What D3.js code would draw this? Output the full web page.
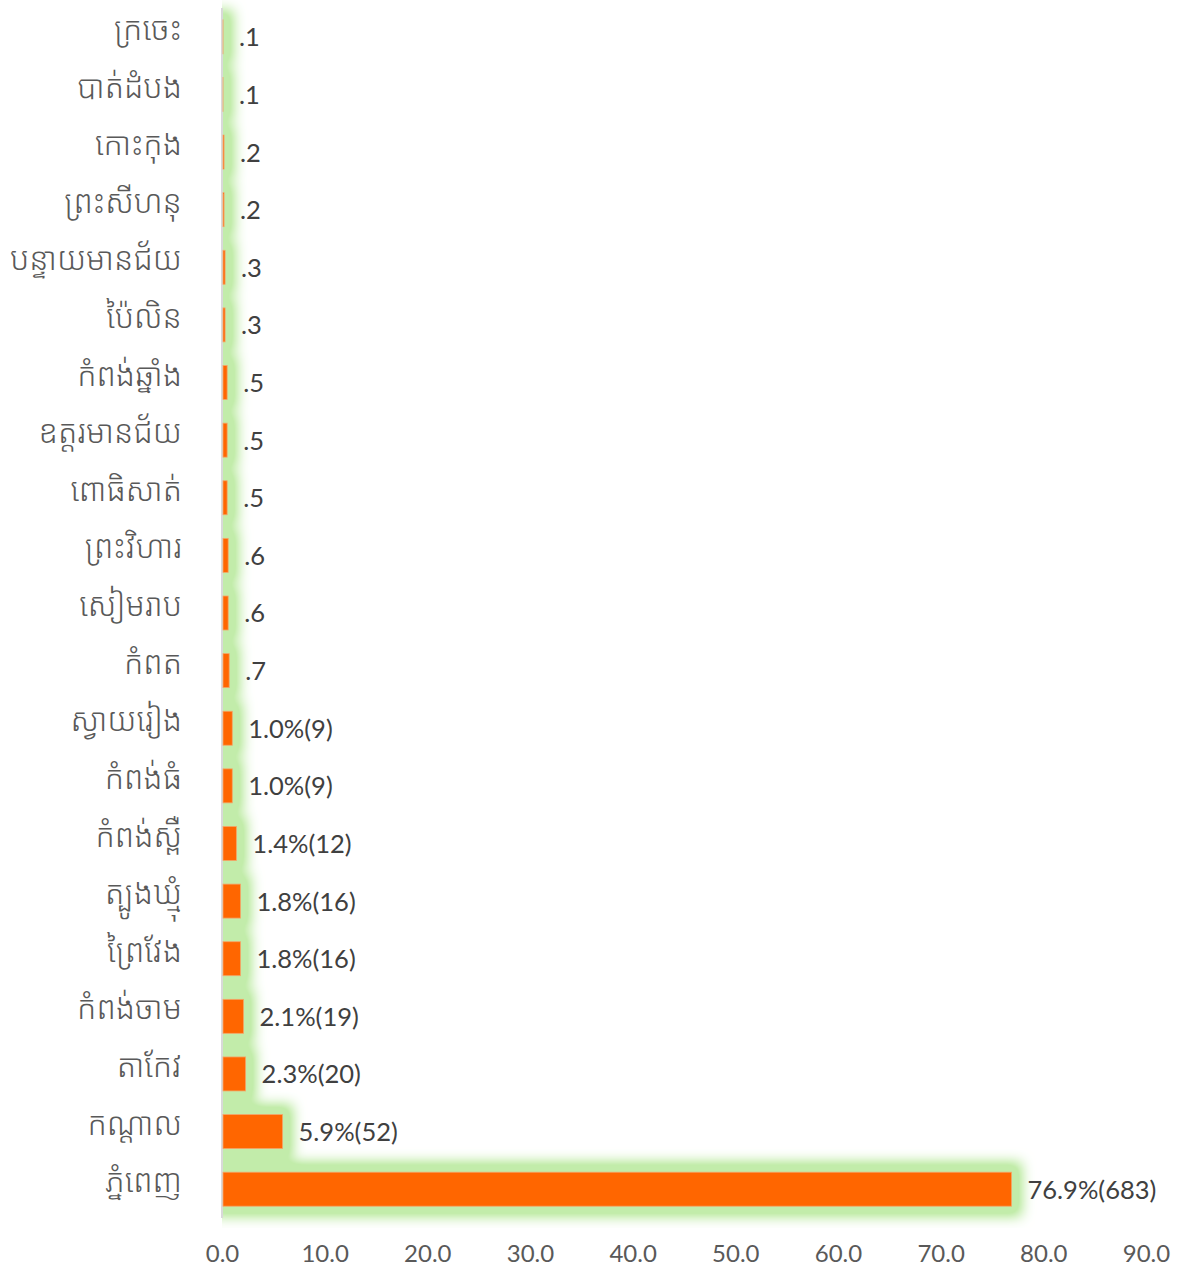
<!DOCTYPE html>
<html>
<head>
<meta charset="utf-8">
<script src="https://cdn.jsdelivr.net/npm/d3@7"></script>
<style>
  body { margin: 0; background: #fff; }
  svg text { font-family: Lato, "Open Sans", "Noto Sans", sans-serif; }
  .cat text { font-family: "Noto Sans Khmer", "Khmer OS", "Noto Sans", "DejaVu Sans", sans-serif; font-weight: 300; }
</style>
</head>
<body>
<div id="chart"></div>
<script>
const width = 1178,
      height = 1268;

// provinces, top to bottom
const provinces = ['ក្រចេះ', 'បាត់ដំបង', 'កោះកុង', 'ព្រះសីហនុ', 'បន្ទាយមានជ័យ', 'ប៉ៃលិន',
  'កំពង់ឆ្នាំង', 'ឧត្តរមានជ័យ', 'ពោធិសាត់', 'ព្រះវិហារ', 'សៀមរាប', 'កំពត', 'ស្វាយរៀង',
  'កំពង់ធំ', 'កំពង់ស្ពឺ', 'ត្បូងឃ្មុំ', 'ព្រៃវែង', 'កំពង់ចាម', 'តាកែវ', 'កណ្តាល', 'ភ្នំពេញ'];
const percents = [0.1, 0.1, 0.2, 0.2, 0.3, 0.3, 0.5, 0.5, 0.5, 0.6, 0.6, 0.7, 1.0,
  1.0, 1.4, 1.8, 1.8, 2.1, 2.3, 5.9, 76.9];
const valueLabels = ['.1', '.1', '.2', '.2', '.3', '.3', '.5', '.5', '.5', '.6', '.6', '.7',
  '1.0%(9)', '1.0%(9)', '1.4%(12)', '1.8%(16)', '1.8%(16)', '2.1%(19)', '2.3%(20)',
  '5.9%(52)', '76.9%(683)'];
const xTicks = [0, 10, 20, 30, 40, 50, 60, 70, 80, 90];

const rows = provinces.map(function(p, i) {
  return { name: p, value: percents[i], label: valueLabels[i] };
});

const margin = { left: 222, top: 8, right: 31, bottom: 50 };

const x = d3.scaleLinear()
            .domain([0, 90])
            .range([margin.left, width - margin.right - 1]);

const y = d3.scaleBand()
            .domain(provinces)
            .range([margin.top, height - margin.bottom])
            .paddingInner(0.41)
            .paddingOuter(0.205);

const svg = d3.select('#chart')
              .append('svg')
              .attr('width', width)
              .attr('height', height);

const defs = svg.append('defs');

const glow = defs.append('filter')
                 .attr('id', 'glow')
                 .attr('filterUnits', 'userSpaceOnUse')
                 .attr('x', 0).attr('y', 0)
                 .attr('width', width).attr('height', height);
glow.append('feMorphology')
    .attr('in', 'SourceAlpha')
    .attr('operator', 'dilate')
    .attr('radius', 10)
    .attr('result', 'fat');
glow.append('feGaussianBlur')
    .attr('in', 'fat')
    .attr('stdDeviation', 6.5)
    .attr('result', 'blur');
glow.append('feComponentTransfer')
    .attr('in', 'blur')
    .attr('result', 'boost')
    .append('feFuncA')
    .attr('type', 'linear')
    .attr('slope', 1.5);
glow.append('feFlood').attr('flood-color', '#c2ecaa');
glow.append('feComposite').attr('in2', 'boost').attr('operator', 'in');

defs.append('clipPath')
    .attr('id', 'plotclip')
    .append('rect')
    .attr('x', margin.left).attr('y', 0)
    .attr('width', width - margin.left).attr('height', height - margin.bottom + 10);

// glow layer
svg.append('g')
   .attr('clip-path', 'url(#plotclip)')
   .append('g')
   .attr('filter', 'url(#glow)')
   .selectAll('rect')
   .data(rows)
   .enter().append('rect')
   .attr('x', x(0))
   .attr('y', function(d) { return y(d.name); })
   .attr('width', function(d) { return x(d.value) - x(0); })
   .attr('height', y.bandwidth())
   .attr('fill', '#000');

// axis line
svg.append('line')
   .attr('x1', x(0)).attr('x2', x(0))
   .attr('y1', margin.top).attr('y2', height - margin.bottom)
   .attr('stroke', '#d9d9d9')
   .attr('stroke-width', 2);

// bars
svg.append('g')
   .selectAll('rect')
   .data(rows)
   .enter().append('rect')
   .attr('x', x(0) + 1)
   .attr('y', function(d) { return y(d.name); })
   .attr('width', function(d) { return Math.max(0, x(d.value) - x(0) - 1); })
   .attr('height', y.bandwidth())
   .attr('fill', '#ff6600')
   .attr('stroke', '#f4a56a')
   .attr('stroke-width', 0.8);

// value labels
svg.append('g')
   .selectAll('text')
   .data(rows)
   .enter().append('text')
   .attr('x', function(d) { return x(d.value) + 16; })
   .attr('y', function(d) { return y(d.name) + y.bandwidth() / 2 + 3; })
   .attr('dominant-baseline', 'middle')
   .attr('fill', '#404040')
   .attr('font-size', 25.5)
   .text(function(d) { return d.label; });

// category axis
const yAxis = d3.axisLeft(y).tickSize(0).tickPadding(40);
const yAxisGroup = svg.append('g')
                      .attr('class', 'cat')
                      .attr('transform', 'translate(' + x(0) + ',-7)')
                      .call(yAxis);
yAxisGroup.select('.domain').remove();
yAxisGroup.selectAll('text')
          .attr('fill', '#595959')
          .attr('font-size', 31.5);

// value axis
const xAxis = d3.axisBottom(x)
                .tickValues(xTicks)
                .tickSize(0)
                .tickPadding(27)
                .tickFormat(d3.format('.1f'));
const xAxisGroup = svg.append('g')
                      .attr('transform', 'translate(0,' + (height - margin.bottom) + ')')
                      .call(xAxis);
xAxisGroup.select('.domain').remove();
xAxisGroup.selectAll('text')
          .attr('fill', '#595959')
          .attr('font-size', 24);
</script>
</body>
</html>
